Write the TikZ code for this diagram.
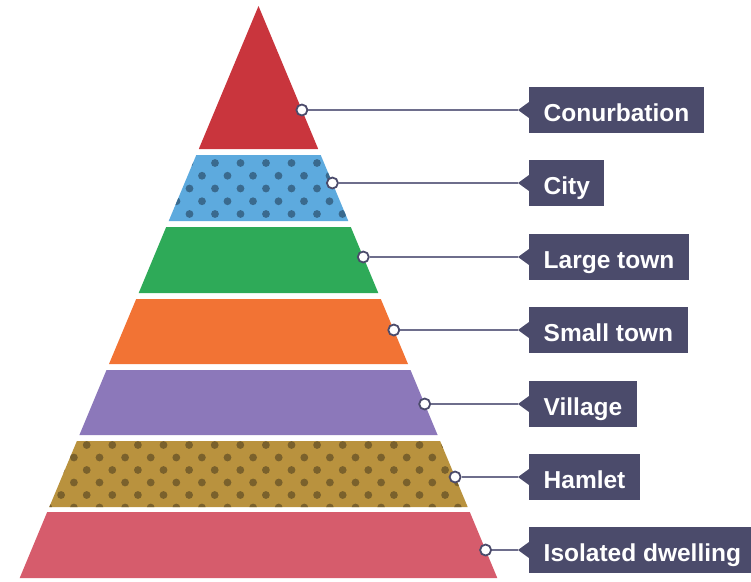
\documentclass[tikz,border=0pt]{standalone}
\usepackage{fontspec}
\setmainfont{Liberation Sans}
\usepackage{tikz}
\usepackage{xcolor}
\usetikzlibrary{positioning, calc}

\definecolor{conurbcol}{HTML}{C9353D}
\definecolor{citycol}{HTML}{5DAADE}
\definecolor{citydotcol}{HTML}{3A6A8E}
\definecolor{largecol}{HTML}{2EAA58}
\definecolor{smallcol}{HTML}{F27334}
\definecolor{villagecol}{HTML}{8C78BA}
\definecolor{hamletcol}{HTML}{B9923E}
\definecolor{hamletdotcol}{HTML}{7A612C}
\definecolor{isolatedcol}{HTML}{D65C6C}
\definecolor{tagcol}{HTML}{4B4B6B}
\definecolor{leadcol}{HTML}{6E6E8C}

\tikzset{
    tag/.style={fill=tagcol, text=white, anchor=west, inner xsep=14.5pt, inner ysep=0pt,
        minimum height=46pt, text height=22pt, text depth=0pt,
        font=\bfseries\fontsize{24.5}{29}\selectfont},
    ring/.style={circle, draw=tagcol, line width=1.8pt, fill=white, minimum size=11pt, inner sep=0pt},
    lead/.style={draw=leadcol, line width=1.8pt},
}

\begin{document}
\begin{tikzpicture}[x=1pt, y=-1pt]
    \useasboundingbox (0,0) rectangle (751,581);

    % Pyramid layers
    \fill[conurbcol] (258.5,6) -- (318.2,149) -- (198.8,149) -- cycle;
    \fill[citycol] (196.3,155) -- (320.7,155) -- (348.3,221) -- (168.7,221) -- cycle;
    \fill[largecol] (166.2,227) -- (350.8,227) -- (378.3,293) -- (138.7,293) -- cycle;
    \fill[smallcol] (136.2,299) -- (380.8,299) -- (408.0,364) -- (109.0,364) -- cycle;
    \fill[villagecol] (106.5,370) -- (410.5,370) -- (437.6,435) -- (79.4,435) -- cycle;
    \fill[hamletcol] (76.9,441) -- (440.1,441) -- (467.7,507) -- (49.3,507) -- cycle;
    \fill[isolatedcol] (47.2,512) -- (469.8,512) -- (497.3,578) -- (19.7,578) -- cycle;

    % Dots on the city layer
    \begin{scope}
        \clip (196.3,155) -- (320.7,155) -- (348.3,221) -- (168.7,221) -- cycle;
        \foreach \row in {0,...,4}
            \foreach \col in {0,...,8}
                \fill[citydotcol] ({151+13*mod(\row+1,2)+25.5*\col}, {163+12.75*\row}) circle (3.9pt);
    \end{scope}

    % Dots on the hamlet layer
    \begin{scope}
        \clip (76.9,441) -- (440.1,441) -- (467.7,507) -- (49.3,507) -- cycle;
        \foreach \row in {0,...,5}
            \foreach \col in {0,...,18}
                \fill[hamletdotcol] ({9.9-12.8*mod(\row,2)+25.6*\col}, {445+12.5*\row}) circle (3.9pt);
    \end{scope}

    % Labels
    \node[tag] (t1) at (529,110) {Conurbation};
    \node[tag] (t2) at (529,183) {City};
    \node[tag] (t3) at (529,257) {Large town};
    \node[tag] (t4) at (529,330) {Small town};
    \node[tag] (t5) at (529,404) {Village};
    \node[tag] (t6) at (529,477) {Hamlet};
    \node[tag] (t7) at (529,550) {Isolated dwelling};

    % Pointer tips on the labels
    \foreach \i in {1,...,7} {
        \coordinate (p\i) at ([xshift=-11pt]t\i.west);
        \fill[tagcol] ([yshift=8pt]t\i.west) -- (p\i) -- ([yshift=-8pt]t\i.west) -- cycle;
    }

    % Rings on the pyramid edge
    \node[ring] (r1) at (301.9,110) {};
    \node[ring] (r2) at (332.4,183) {};
    \node[ring] (r3) at (363.3,257) {};
    \node[ring] (r4) at (393.8,330) {};
    \node[ring] (r5) at (424.7,404) {};
    \node[ring] (r6) at (455.1,477) {};
    \node[ring] (r7) at (485.6,550) {};

    % Leader lines
    \foreach \i in {1,...,7}
        \draw[lead] (r\i) -- (p\i);
\end{tikzpicture}
\end{document}
